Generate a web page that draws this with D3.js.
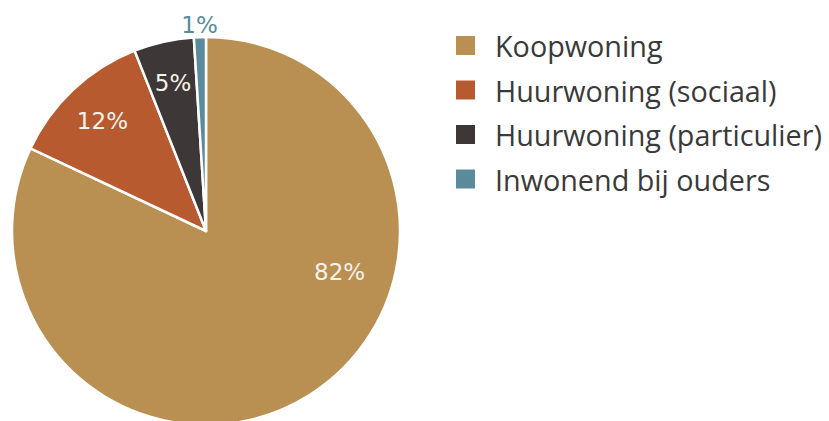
<!DOCTYPE html>
<html>
<head>
<meta charset="utf-8">
<script src="https://cdn.jsdelivr.net/npm/d3@7"></script>
<style>
  html, body { margin: 0; padding: 0; background: #fff; }
  svg { display: block; }
  text { font-family: "Open Sans", "Noto Sans", sans-serif; }
  text.pct { font-family: "DejaVu Sans", "Open Sans", sans-serif; }
</style>
</head>
<body>
<svg id="chart" width="829" height="421"></svg>
<script>
// Woonsituatie
const categories = ["Koopwoning", "Huurwoning (sociaal)", "Huurwoning (particulier)", "Inwonend bij ouders"];
const values = [82, 12, 5, 1];
const colors = ["#b98f52", "#b85a2f", "#3d3837", "#5a8b9b"];

const cx = 206, cy = 231, R = 194;

const svg = d3.select("#chart");

const data = categories.map((c, i) => ({ name: c, value: values[i], color: colors[i] }));
const total = d3.sum(values);

const pie = d3.pie().sort(null).value(d => d.value);
const arcs = pie(data);
const arc = d3.arc().innerRadius(0).outerRadius(R);

const g = svg.append("g").attr("transform", `translate(${cx},${cy})`);

g.selectAll("path.slice")
  .data(arcs)
  .join("path")
  .attr("class", "slice")
  .attr("d", arc)
  .attr("fill", d => d.data.color)
  .attr("stroke", "#fff")
  .attr("stroke-width", 2.5)
  .attr("stroke-linejoin", "round");

// Percentage labels: inside for normal slices, outside for tiny ones.
// The dominant slice gets its label pulled toward the open right-hand side.
const bigLabelAngle = 107 * Math.PI / 180;
function labelPos(d) {
  const share = d.data.value / total;
  let a = (d.startAngle + d.endAngle) / 2;
  let r = 0.78 * R;
  if (share > 0.5) { a = bigLabelAngle; r = 0.72 * R; }
  else if (share < 0.03) { r = 1.06 * R; }
  return [Math.sin(a) * r, -Math.cos(a) * r];
}

g.selectAll("text.pct")
  .data(arcs)
  .join("text")
  .attr("class", "pct")
  .attr("x", d => labelPos(d)[0])
  .attr("y", d => labelPos(d)[1])
  .attr("text-anchor", "middle")
  .attr("dominant-baseline", "central")
  .attr("font-size", 23)
  .attr("fill", d => (d.data.value / total < 0.03) ? d.data.color : "#f7f2ea")
  .text(d => d.data.value + "%");

// Legend
const legend = svg.append("g").attr("transform", "translate(456,36)");
const rowH = 44.5, sw = 19;
const items = legend.selectAll("g.item")
  .data(data)
  .join("g")
  .attr("class", "item")
  .attr("transform", (d, i) => `translate(0,${i * rowH})`);

items.append("rect")
  .attr("width", sw).attr("height", sw)
  .attr("fill", d => d.color);

const labels = items.append("text")
  .attr("x", 39)
  .attr("y", sw / 2)
  .attr("dominant-baseline", "central")
  .attr("fill", "#3a3a3a")
  .attr("font-size", 25)
  .text(d => d.name);

// Fit the legend text so the longest entry spans the available width
const targetW = 327;
const maxW = d3.max(labels.nodes(), n => n.getComputedTextLength());
labels.attr("font-size", 25 * targetW / maxW);
</script>
</body>
</html>
